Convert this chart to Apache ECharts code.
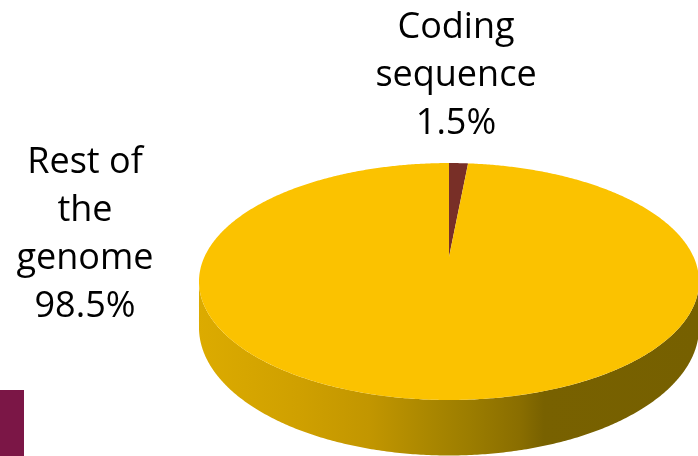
<!DOCTYPE html>
<html>
<head>
<meta charset="utf-8">
<script src="https://cdn.jsdelivr.net/npm/echarts@6/dist/echarts.min.js"></script>
<style>
html,body{margin:0;padding:0;background:#fff;}
#chart{width:698px;height:456px;}
</style>
</head>
<body>
<div id="chart"></div>
<script>
// ---- data ----
var categories = ['Coding sequence', 'Rest of the genome'];
var labelLines = ['Coding\nsequence', 'Rest of\nthe\ngenome'];
var values = [1.5, 98.5];

// ---- styling / layout ----
var topColors = ['#782F27', '#FBC200'];
var sideStops = [
  [{offset:0,color:'#5E2520'},{offset:1,color:'#4A1C18'}],
  [{offset:0,color:'#DCAB00'},{offset:0.2,color:'#CFA000'},{offset:0.34,color:'#C29600'},
   {offset:0.46,color:'#AA8700'},{offset:0.54,color:'#9C7D00'},{offset:0.64,color:'#8A6E00'},
   {offset:0.69,color:'#786100'},{offset:1,color:'#766000'}]
];
var labelPos = [[456, 4], [85, 139]];

var CX = 449, CY = 257, A = 244.6, B = 113.4, P = 0.207, D = 44;
var total = values.reduce(function(s, v){ return s + v; }, 0);

function proj(t, down) {
  var u = Math.sin(t), v = -Math.cos(t);
  var s = 1 / (1 - P * v);
  return [CX + A * u * s, CY + B * v * s + down * s];
}
function arc(t0, t1, down) {
  var pts = [];
  var n = Math.max(2, Math.ceil(Math.abs(t1 - t0) / (Math.PI / 360)));
  for (var i = 0; i <= n; i++) pts.push(proj(t0 + (t1 - t0) * i / n, down));
  return pts;
}
var TR = Math.PI / 2 + Math.asin(P);      // right silhouette
var TL = 3 * Math.PI / 2 - Math.asin(P);  // left silhouette

var chart = echarts.init(document.getElementById('chart'), null, {renderer:'canvas'});
chart.setOption({
  animation: false,
  backgroundColor: '#ffffff',
  graphic: [{
    type: 'rect', shape: {x: 0, y: 390, width: 24, height: 66},
    style: {fill: '#7B1646'}, z: 0
  }],
  series: [{
    type: 'custom',
    coordinateSystem: 'none',
    data: values.map(function(v, i){ return {name: categories[i], value: v}; }),
    renderItem: function(params, api) {
      var idx = params.dataIndex;
      var before = 0;
      for (var k = 0; k < idx; k++) before += values[k];
      var t0 = before / total * 2 * Math.PI;
      var t1 = (before + api.value(0)) / total * 2 * Math.PI;
      var children = [];
      var lo = Math.max(t0, TR), hi = Math.min(t1, TL);
      if (hi > lo) {
        var topArc = arc(lo, hi, 0);
        var botArc = arc(hi, lo, D);
        children.push({
          type: 'polygon',
          shape: {points: topArc.concat(botArc)},
          style: {fill: {type:'linear', x:0, y:0, x2:1, y2:0, colorStops: sideStops[idx]}}
        });
      }
      children.push({
        type: 'polygon',
        shape: {points: [[CX, CY]].concat(arc(t0, t1, 0))},
        style: {fill: topColors[idx]}
      });
      children.push({
        type: 'text',
        style: {
          text: labelLines[idx] + '\n' + api.value(0).toFixed(1) + '%',
          x: labelPos[idx][0], y: labelPos[idx][1],
          fill: '#000000',
          font: '36px "Open Sans"',
          lineHeight: 48,
          align: 'center', verticalAlign: 'top'
        }
      });
      return {type: 'group', children: children};
    }
  }]
});
</script>
</body>
</html>
